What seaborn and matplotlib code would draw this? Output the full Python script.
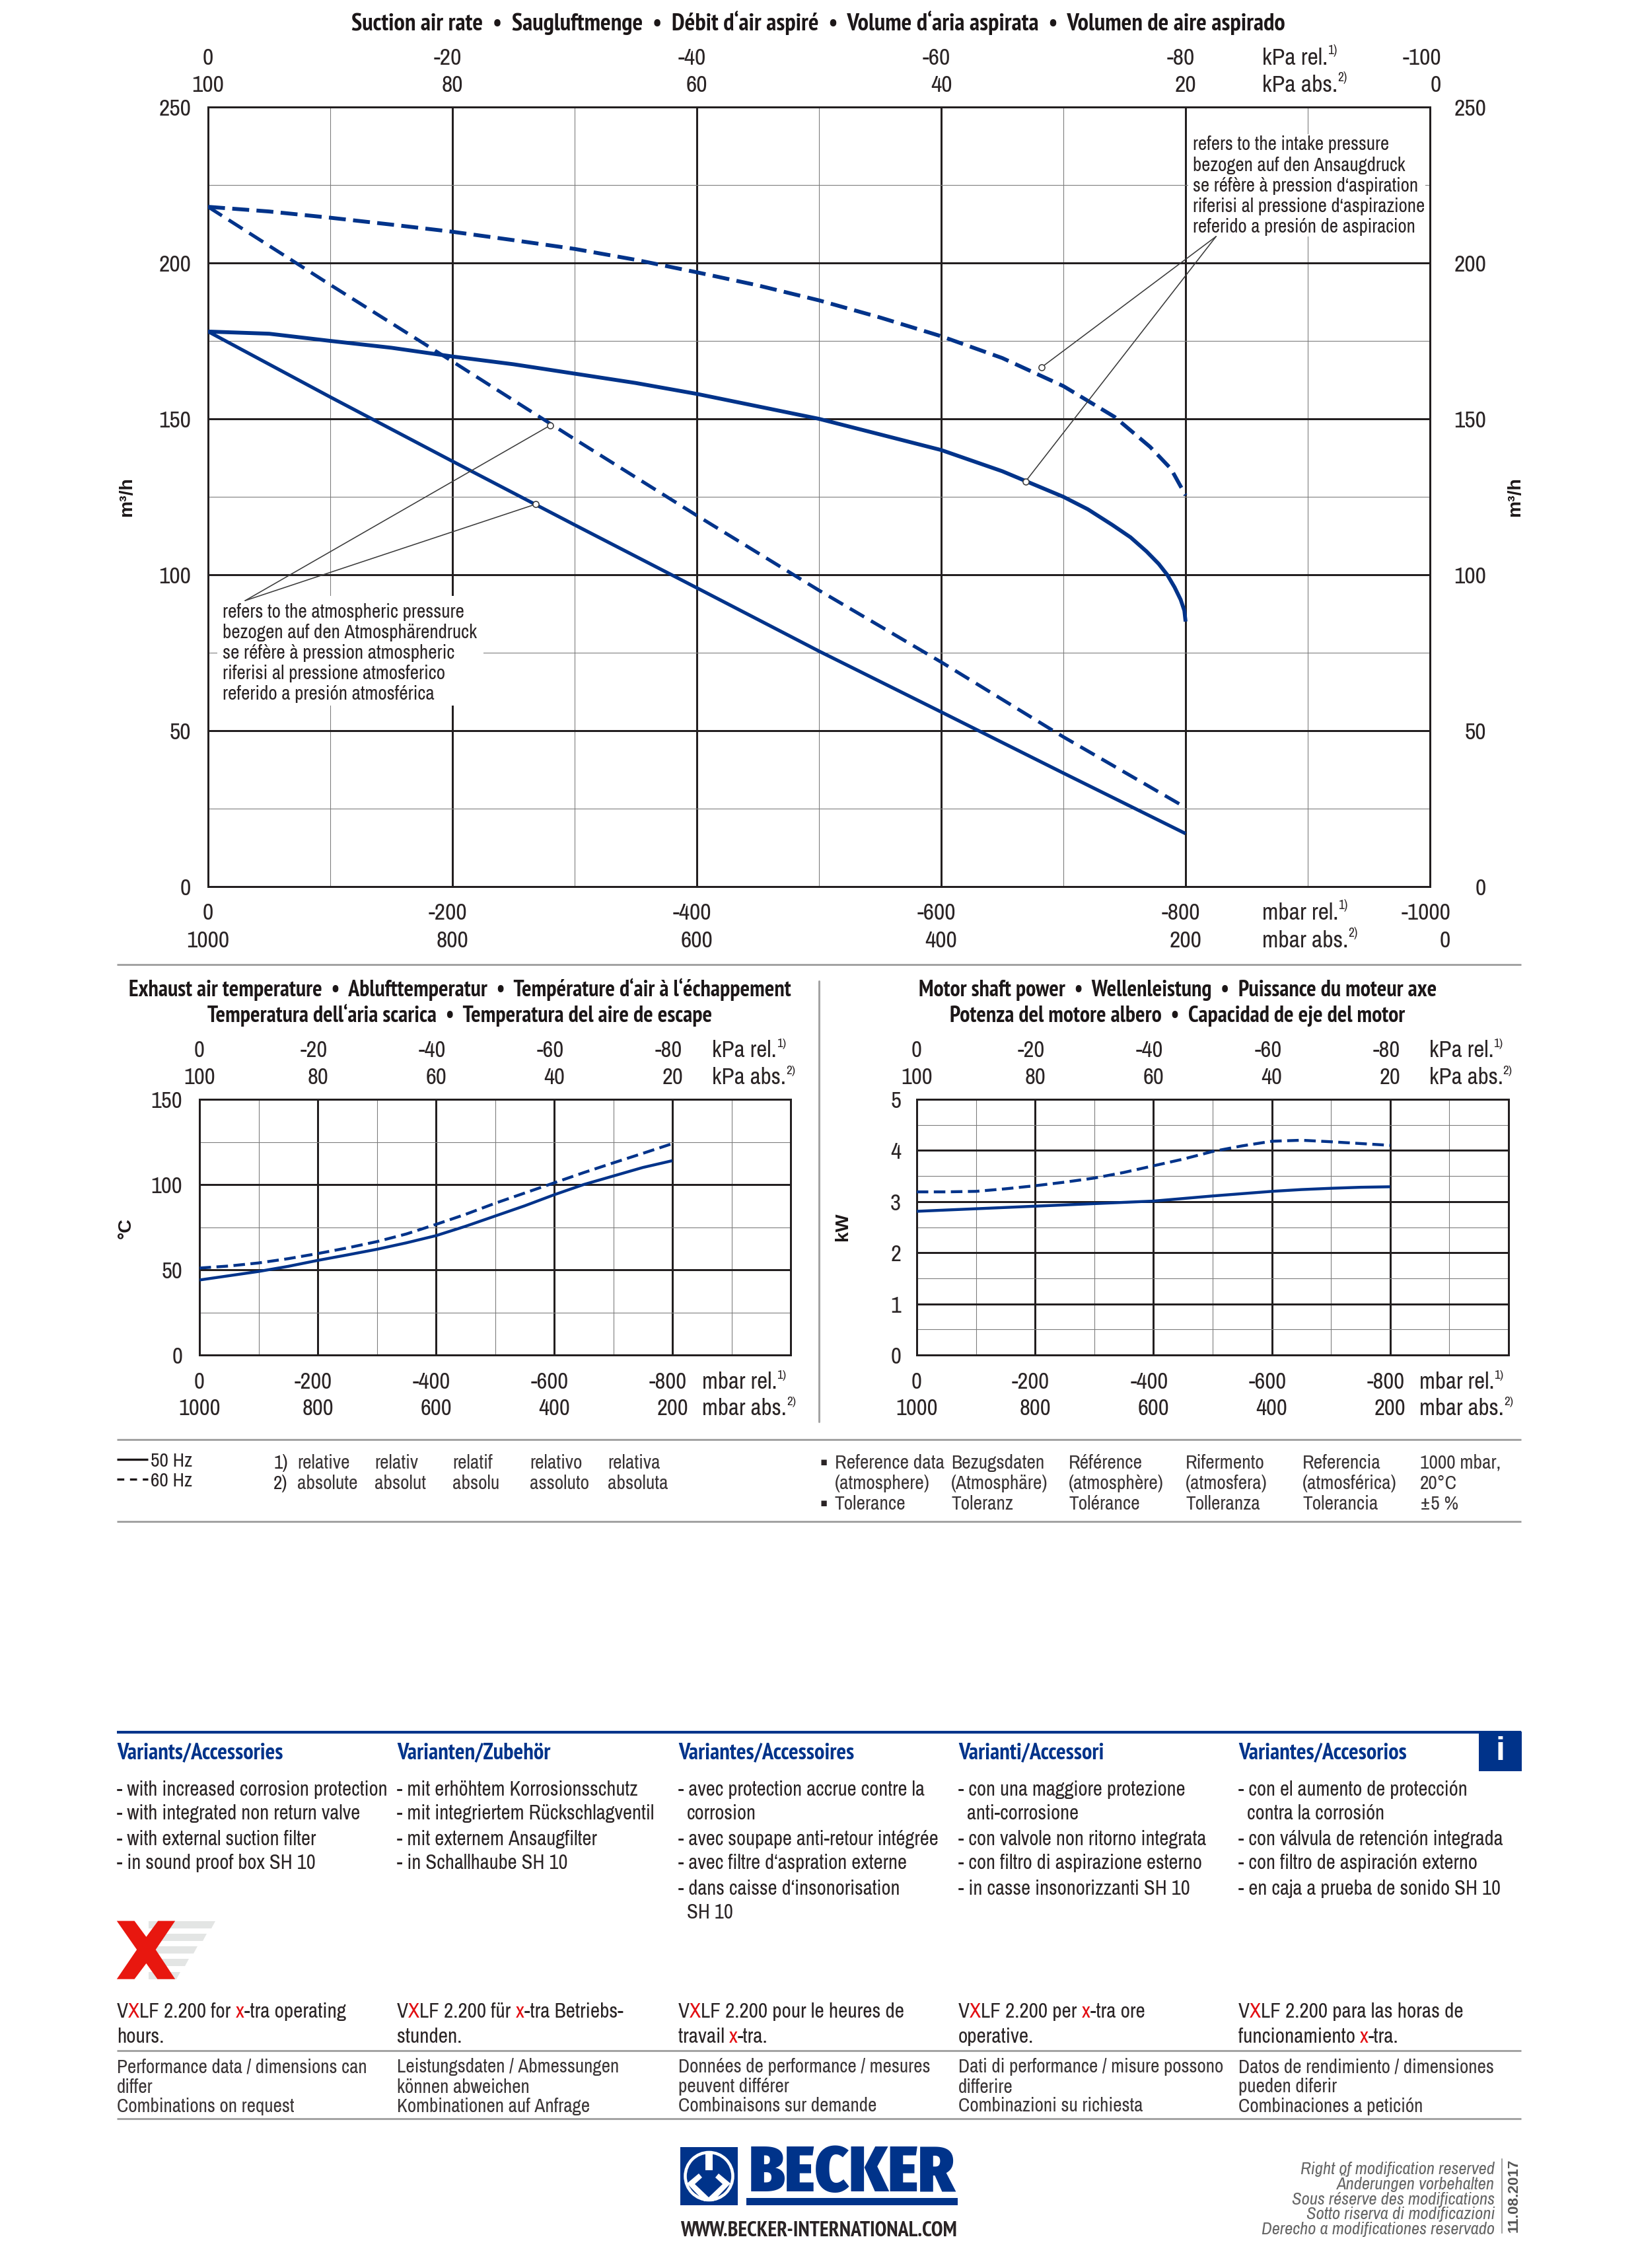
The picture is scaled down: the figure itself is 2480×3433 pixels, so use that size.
import matplotlib
matplotlib.use('Agg')
import matplotlib.pyplot as plt
from matplotlib.patches import Rectangle, Polygon, Circle
from matplotlib.lines import Line2D
from matplotlib.transforms import blended_transform_factory, ScaledTranslation
import seaborn as sns

# ---------- data ----------
suction_x_intake = [0,-50,-100,-150,-200,-250,-300,-350,-400,-450,-500,-550,-600,-650,-700,-720,-740,-755,-768,-778,-785,-791,-796,-799,-800]
suction_50_intake = [178,177.3,175,172.8,170,167.5,164.5,161.5,158,154,150,145,140,133.2,125,121,116,112,107.5,103.5,100,96,92,88.5,85]
suction_x_intake60 = [0,-50,-100,-150,-200,-250,-300,-350,-400,-450,-500,-550,-600,-650,-700,-742,-771,-788,-800]
suction_60_intake = [218,216.5,214.5,212.3,210,207.3,204.5,201,197,192.8,188,182.5,176.5,169.5,160.5,150.6,141,134,125.5]
suction_x_atm = [0,-100,-200,-300,-400,-500,-600,-700,-800]
suction_50_atm = [178,157,136.4,116,95.8,75.5,56,36.4,17]
suction_x_atm60 = [0,-100,-200,-300,-400,-500,-600,-700,-795]
suction_60_atm = [218,193,168.4,143.5,119,95,72,48,26.5]

temp_x = [0,-50,-100,-150,-200,-250,-300,-350,-400,-450,-500,-550,-600,-650,-700,-750,-800]
temp_50 = [44,46.5,49,52,55.5,58.7,62,65.8,70,75.5,81.5,87.5,94,100,105,110,114]
temp_60 = [51,52.2,54,56.5,59.5,62.8,66.5,71,76.6,82.5,89,95,101,107,112.7,118.3,124]

power_x = [0,-50,-100,-150,-200,-250,-300,-350,-400,-450,-500,-550,-600,-650,-700,-750,-800]
power_50 = [2.81,2.835,2.86,2.885,2.91,2.935,2.96,2.985,3.01,3.06,3.11,3.155,3.2,3.235,3.26,3.28,3.29]
power_60 = [3.19,3.19,3.2,3.25,3.31,3.38,3.46,3.57,3.70,3.83,3.98,4.09,4.18,4.2,4.17,4.135,4.10]

kpa_rel = ['0','-20','-40','-60','-80']
kpa_abs = ['100','80','60','40','20']
mbar_rel = ['0','-200','-400','-600','-800']
mbar_abs = ['1000','800','600','400','200']
tick_pos = [0,-200,-400,-600,-800]

titles_main = "Suction air rate  •  Saugluftmenge  •  Débit d‘air aspiré  •  Volume d‘aria aspirata  •  Volumen de aire aspirado"
title_temp = ["Exhaust air temperature  •  Ablufttemperatur  •  Température d‘air à l‘échappement",
              "Temperatura dell‘aria scarica  •  Temperatura del aire de escape"]
title_pow = ["Motor shaft power  •  Wellenleistung  •  Puissance du moteur axe",
             "Potenza del motore albero  •  Capacidad de eje del motor"]
note_intake = ["refers to the intake pressure","bezogen auf den Ansaugdruck","se réfère à pression d‘aspiration",
               "riferisi al pressione d‘aspirazione","referido a presión de aspiracion"]
note_atm = ["refers to the atmospheric pressure","bezogen auf den Atmosphärendruck","se réfère à pression atmospheric",
            "riferisi al pressione atmosferico","referido a presión atmosférica"]

var_heads = ["Variants/Accessories","Varianten/Zubehör","Variantes/Accessoires","Varianti/Accessori","Variantes/Accesorios"]
var_lines = [
 ["- with increased corrosion protection","- with integrated non return valve","- with external suction filter","- in sound proof box SH 10"],
 ["- mit erhöhtem Korrosionsschutz","- mit integriertem Rückschlagventil","- mit externem Ansaugfilter","- in Schallhaube SH 10"],
 ["- avec protection accrue contre la","  corrosion","- avec soupape anti-retour intégrée","- avec filtre d‘aspration externe","- dans caisse d‘insonorisation","  SH 10"],
 ["- con una maggiore protezione","  anti-corrosione","- con valvole non ritorno integrata","- con filtro di aspirazione esterno","- in casse insonorizzanti SH 10"],
 ["- con el aumento de protección","  contra la corrosión","- con válvula de retención integrada","- con filtro de aspiración externo","- en caja a prueba de sonido SH 10"],
]
xtra_lines = [
 [[("V",0),("X",1),("LF 2.200 for ",0),("x",1),("-tra operating",0)],[("hours.",0)]],
 [[("V",0),("X",1),("LF 2.200 für ",0),("x",1),("-tra Betriebs-",0)],[("stunden.",0)]],
 [[("V",0),("X",1),("LF 2.200 pour le heures de",0)],[("travail ",0),("x",1),("-tra.",0)]],
 [[("V",0),("X",1),("LF 2.200 per ",0),("x",1),("-tra ore",0)],[("operative.",0)]],
 [[("V",0),("X",1),("LF 2.200 para las horas de",0)],[("funcionamiento ",0),("x",1),("-tra.",0)]],
]
perf = [
 ["Performance data / dimensions can","differ","Combinations on request"],
 ["Leistungsdaten / Abmessungen","können abweichen","Kombinationen auf Anfrage"],
 ["Données de performance / mesures","peuvent différer","Combinaisons sur demande"],
 ["Dati di performance / misure possono","differire","Combinazioni su richiesta"],
 ["Datos de rendimiento / dimensiones","pueden diferir","Combinaciones a petición"],
]
rel_cols = [("relative","absolute"),("relativ","absolut"),("relatif","absolu"),("relativo","assoluto"),("relativa","absoluta")]
ref_cols = [("Reference data","(atmosphere)","Tolerance"),("Bezugsdaten","(Atmosphäre)","Toleranz"),("Référence","(atmosphère)","Tolérance"),
            ("Rifermento","(atmosfera)","Tolleranza"),("Referencia","(atmosférica)","Tolerancia"),("1000 mbar,","20°C","±5 %")]
rights = ["Right of modification reserved","Änderungen vorbehalten","Sous réserve des modifications","Sotto riserva di modificazioni","Derecho a modificationes reservado"]

# ---------- style ----------
sns.set_theme(style='white')
NARROW = ['Archivo Narrow','Liberation Sans','DejaVu Sans']
BOLDF = ['PT Sans Narrow','Liberation Sans','DejaVu Sans']
SANS = ['Liberation Sans','DejaVu Sans']
plt.rcParams['font.family'] = NARROW
BLUE = '#00338a'; DARK = '#2a2425'; GRID = '#231f20'; MINOR = '#7c7c7c'; RULE = '#a3a3a3'; RED = '#e30f13'; BK = '#1c1718'
W, H = 2480, 3433
PT = 300/72
fig = plt.figure(figsize=(W/300, H/300), dpi=300, facecolor='white')

def axpx(l, t, r, b):
    return fig.add_axes([l/W, 1-b/H, (r-l)/W, (b-t)/H])

ov = fig.add_axes([0,0,1,1], zorder=5)
ov.set_xlim(0,W); ov.set_ylim(H,0); ov.axis('off'); ov.patch.set_alpha(0)

def T(x, y, s, size=7.9, color=DARK, ha='left', transform=None, **kw):
    """y is the vertical middle of the capitals, in reference pixels"""
    base = y + 0.36*size*PT
    tr = transform if transform is not None else ov.transData
    return ov.text(x, base, s, fontsize=size, color=color, ha=ha, va='baseline', transform=tr, clip_on=False, **kw)

def B(x, y, s, size=8.18, color=BK, ha='left', **kw):
    return T(x, y, s, size=size, color=color, ha=ha, family=BOLDF, fontweight='bold', **kw)

def rich(x, y, parts, size=7.9):
    prev = None
    for s, red in parts:
        c = RED if red else DARK
        if prev is None:
            prev = T(x, y, s, size=size, color=c)
        else:
            prev = ov.annotate(s, xy=(1,0), xycoords=prev, va='bottom', ha='left', fontsize=size, color=c)
    return prev

def unit(x, y, s, sup, size=8.6):
    t = T(x, y, s, size=size)
    ov.annotate(sup, xy=(1,0.55), xycoords=t, va='bottom', ha='left', fontsize=size*0.55, color=DARK)

def setup(ax, xmaj, ymax, ymaj, ymin):
    ax.set_xlim(0,-1000); ax.set_ylim(0,ymax)
    ax.set_xticks(xmaj); ax.set_xticks([-100,-300,-500,-700,-900], minor=True)
    ax.set_yticks(ymaj); ax.set_yticks(ymin, minor=True)
    ax.grid(True, which='major', color=GRID, lw=0.72)
    ax.grid(True, which='minor', color=MINOR, lw=0.26)
    ax.set_axisbelow(True)
    ax.tick_params(which='both', length=0, bottom=False, left=False, labelbottom=False, labelleft=False)
    for s in ax.spines.values():
        s.set_color(GRID); s.set_linewidth(0.72); s.set_visible(True)

def curve(ax, x, y, lw, dash=None):
    kw = dict(linestyle=(0,dash)) if dash else {}
    sns.lineplot(x=x, y=y, ax=ax, color=BLUE, lw=lw, estimator=None, sort=False, zorder=3, solid_capstyle='butt', dash_capstyle='butt', legend=False, errorbar=None, **kw)
    ax.set_xlabel(''); ax.set_ylabel('')

def xrows(ax, y1, y2, labels1, labels2, pos, dx, size):
    tr = blended_transform_factory(ax.transData, ov.transData)
    for p, a, b in zip(pos, labels1, labels2):
        T(p, y2, b, size=size, ha='center', transform=tr)
        if p == 0:
            T(p, y1, a, size=size, ha='center', transform=tr)
        else:
            tr2 = tr + ScaledTranslation(dx/300, 0, fig.dpi_scale_trans)
            T(p, y1, a, size=size, ha='right', transform=tr2)

def ylabels(x, ax, vals, size):
    tr = blended_transform_factory(ov.transData, ax.transData)
    for v in vals:
        ov.text(x, v, str(v), fontsize=size, color=DARK, ha='right', va='center_baseline', transform=tr, clip_on=False)

# ---------- main chart ----------
a0 = axpx(315,162,2165,1342)
setup(a0, tick_pos, 250, [0,50,100,150,200,250], [25,75,125,175,225])
curve(a0, suction_x_intake, suction_50_intake, 1.4)
curve(a0, suction_x_atm, suction_50_atm, 1.25)
curve(a0, suction_x_intake60, suction_60_intake, 1.4, (4.4,1.9))
curve(a0, suction_x_atm60, suction_60_atm, 1.25, (4.8,2.3))
a0.add_patch(Rectangle((329,902),403,166,transform=ov.transData,facecolor='white',edgecolor='none',zorder=2))
a0.add_patch(Rectangle((1799,203),359,155,transform=ov.transData,facecolor='white',edgecolor='none',zorder=2))
for (ox,oy,targets) in [(-30.3,91.7,[(-268,122.6),(-280,147.9)]),(-825,208.5,[(-682,166.5),(-669,129.9)])]:
    for tx,ty in targets:
        a0.plot([ox,tx],[oy,ty],color='#3a3a3a',lw=0.38,zorder=4)
        a0.plot([tx],[ty],marker='o',ms=2.2,mfc='white',mec='#3a3a3a',mew=0.38,zorder=5)

B(1239,33,titles_main,size=8.84,ha='center')
xrows(a0,85,126,kpa_rel,kpa_abs,tick_pos,14,8.6)
xrows(a0,1379,1421,mbar_rel,mbar_abs,tick_pos,22,8.6)
T(2182,126,'0',size=8.6,ha='right'); T(2196,1421,'0',size=8.6,ha='right')
T(2182,85,'-100',size=8.6,ha='right'); T(2196,1379,'-1000',size=8.6,ha='right')
unit(1911,85,'kPa rel.','1)'); unit(1911,126,'kPa abs.','2)')
unit(1911,1379,'mbar rel.','1)'); unit(1911,1421,'mbar abs.','2)')
ylabels(289,a0,[0,50,100,150,200,250],8.6)
ylabels(2250,a0,[0,50,100,150,200,250],8.6)
for x in (192,2294):
    ov.text(x,752,'m³/h',rotation=90,fontsize=6.8,fontweight='bold',color=BK,ha='center',va='center',family=SANS)
for i,s in enumerate(note_intake):
    T(1806,217+i*31.2,s,size=6.93)
for i,s in enumerate(note_atm):
    T(337,924+i*31.2,s,size=7.0)

# ---------- temperature ----------
a1 = axpx(302,1664,1197,2051)
setup(a1, tick_pos, 150, [0,50,100,150], [25,75,125])
curve(a1, temp_x, temp_50, 1.05)
curve(a1, temp_x, temp_60, 1.05, (4.0,1.9))
B(696,1496,title_temp[0],ha='center')
B(696,1535,title_temp[1],ha='center')
xrows(a1,1587,1628,kpa_rel,kpa_abs,tick_pos,15,8.4)
xrows(a1,2089,2129,mbar_rel,mbar_abs,tick_pos,22,8.4)
unit(1078,1587,'kPa rel.','1)',8.4); unit(1078,1628,'kPa abs.','2)',8.4)
unit(1063,2089,'mbar rel.','1)',8.4); unit(1063,2129,'mbar abs.','2)',8.4)
ylabels(276,a1,[0,50,100,150],8.4)
ov.text(191,1859,'°C',rotation=90,fontsize=6.8,fontweight='bold',color=BK,ha='center',va='center',family=SANS)

# ---------- power ----------
a2 = axpx(1388,1664,2284,2051)
setup(a2, tick_pos, 5, [0,1,2,3,4,5], [0.5,1.5,2.5,3.5,4.5])
curve(a2, power_x, power_50, 1.05)
curve(a2, power_x, power_60, 1.05, (4.0,1.9))
B(1783,1496,title_pow[0],ha='center')
B(1783,1535,title_pow[1],ha='center')
xrows(a2,1587,1628,kpa_rel,kpa_abs,tick_pos,15,8.4)
xrows(a2,2089,2129,mbar_rel,mbar_abs,tick_pos,22,8.4)
unit(2163.5,1587,'kPa rel.','1)',8.4); unit(2163.5,1628,'kPa abs.','2)',8.4)
unit(2149,2089,'mbar rel.','1)',8.4); unit(2149,2129,'mbar abs.','2)',8.4)
ylabels(1364,a2,[0,1,2,3,4,5],8.4)
ov.text(1276,1857,'kW',rotation=90,fontsize=6.8,fontweight='bold',color=BK,ha='center',va='center',family=SANS)

# ---------- rules ----------
def rule(x0,x1,y,c=RULE,lw=0.72):
    ov.add_line(Line2D([x0,x1],[y,y],color=c,lw=lw,solid_capstyle='butt'))
for y in (1460,2179,2303,3104,3207):
    rule(177,2303,y)
ov.add_line(Line2D([1240,1240],[1485,2152],color=RULE,lw=0.72))
rule(177,2303,2622,BLUE,1.0)

# ---------- legend row ----------
ov.add_line(Line2D([177,224],[2209,2209],color=BK,lw=0.8,solid_capstyle='butt'))
ov.add_line(Line2D([177,224],[2239,2239],color=BK,lw=0.8,linestyle=(0,(3.2,2.6))))
S2 = 7.1
T(228,2209,'50 Hz',size=S2); T(228,2239,'60 Hz',size=S2)
T(414,2212,'1)',size=S2); T(414,2243,'2)',size=S2)
for x,(a,b) in zip([450,567,685,802,920],rel_cols):
    T(x,2212,a,size=S2,color='#3a3536'); T(x,2243,b,size=S2,color='#3a3536')
T(1247,2212,'▪',size=4,ha='center',family=['DejaVu Sans']); T(1247,2274,'▪',size=4,ha='center',family=['DejaVu Sans'])
for x,col in zip([1263.5,1440,1618,1795,1972,2149.5],ref_cols):
    for y,s in zip([2212,2243,2274],col):
        T(x,y,s,size=S2,color='#3a3536')

# ---------- variants ----------
cols = [177,601,1027,1451,1875]
rows = [2707,2743,2782,2818,2857,2893]
for x,h,ls,xl,pf in zip(cols,var_heads,var_lines,xtra_lines,perf):
    B(x,2650,h,size=8.3,color=BLUE)
    for y,s in zip(rows,ls):
        if s.startswith('  '):
            T(x+13,y,s.strip(),size=7.35)
        else:
            T(x,y,s,size=7.35)
    rich(x,3042.6,xl[0],size=7.5)
    rich(x,3080.5,xl[1],size=7.5)
    for y,s in zip([3127,3157,3186],pf):
        T(x,y,s,size=7.0,color='#3a3536')
ov.add_patch(Rectangle((2239,2621),65,60,facecolor=BLUE,edgecolor='none'))
ov.text(2271.5,2651,'i',color='white',fontsize=12,fontweight='bold',ha='center',va='center',family=SANS)

# ---------- x-tra logo ----------
for top,right in [(2908,326),(2927,313),(2946,299),(2965,286),(2985,273)]:
    h = 11
    ov.add_patch(Polygon([(225,top),(right,top),(right-6,top+h),(225,top+h)],facecolor='#e3e5e4',edgecolor='none'))
xp = [(60,155),(120,155),(160,220),(200,155),(258,155),(192,272),(258,392),(198,392),(160,328),(120,392),(60,392),(128,272)]
ov.add_patch(Polygon([(150+a/2.24,2850+b/2.69) for a,b in xp],facecolor='#e8170f',edgecolor='none',zorder=3))

# ---------- becker logo ----------
ov.add_patch(Rectangle((1030,3250),87,88,facecolor=BLUE,edgecolor='none'))
ov.add_patch(Circle((1073.5,3294),36,facecolor=BLUE,edgecolor='white',lw=1.1))
ov.add_patch(Polygon([(1068,3258),(1068,3285),(1079,3285),(1079,3258)],facecolor='white',edgecolor='none'))
ov.add_patch(Polygon([(1040,3305),(1058,3290),(1063,3296),(1052,3306),(1073,3326),(1094,3306),(1083,3296),(1088,3290),(1106,3305),(1080,3332),(1066,3332)],facecolor='white',edgecolor='none'))
ov.add_patch(Rectangle((1130,3327),320,11,facecolor=BLUE,edgecolor='none'))
ov.text(1290,3317,'BECKER',fontsize=23.3,ha='center',va='baseline',color=BLUE,family=['Fira Sans Condensed','Liberation Sans'],fontweight=900)
B(1239.5,3373,'WWW.BECKER-INTERNATIONAL.COM',size=7.7,ha='center',color='#2a2425')
for y,s in zip([3281,3304,3327,3349,3372],rights):
    T(2263,y,s,size=6.4,ha='right',color='#666666',style='italic')
ov.add_line(Line2D([2274,2274],[3268,3380],color=RULE,lw=0.5))
ov.text(2292,3323,'11.08.2017',rotation=90,fontsize=5.4,fontweight='bold',color='#555555',ha='center',va='center',family=SANS)

fig.savefig('out.png',dpi=300,facecolor='white')
